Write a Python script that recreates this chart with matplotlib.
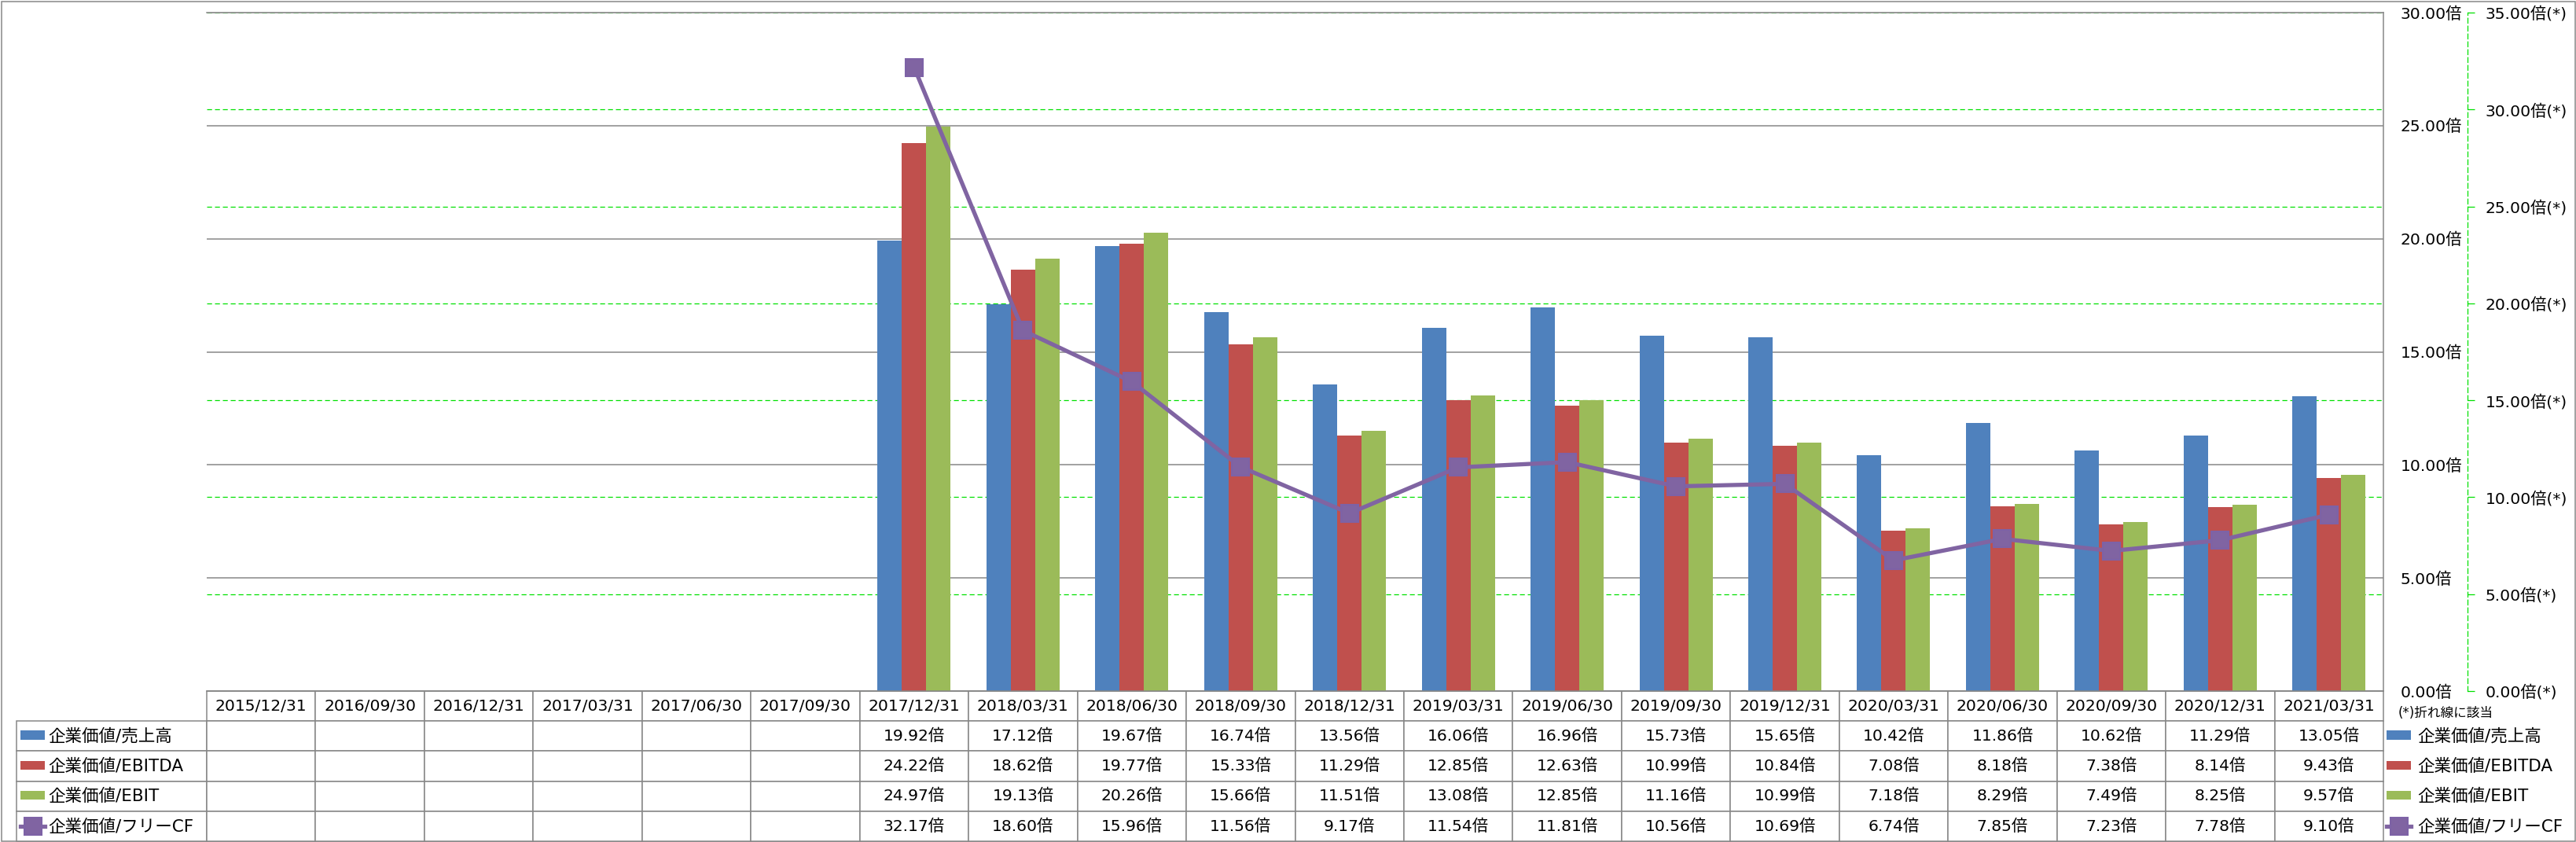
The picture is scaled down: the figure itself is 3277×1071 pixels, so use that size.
import numpy as np
import matplotlib
matplotlib.use('Agg')
import matplotlib.pyplot as plt
from matplotlib.patches import Rectangle

plt.rcParams['font.family'] = ['DejaVu Sans', 'Noto Sans CJK JP']

# Data
dates = ['2015/12/31', '2016/09/30', '2016/12/31', '2017/03/31', '2017/06/30',
         '2017/09/30', '2017/12/31', '2018/03/31', '2018/06/30', '2018/09/30',
         '2018/12/31', '2019/03/31', '2019/06/30', '2019/09/30', '2019/12/31',
         '2020/03/31', '2020/06/30', '2020/09/30', '2020/12/31', '2021/03/31']
nan = np.nan
ev_sales = [nan] * 6 + [19.92, 17.12, 19.67, 16.74, 13.56, 16.06, 16.96, 15.73, 15.65,
                        10.42, 11.86, 10.62, 11.29, 13.05]
ev_ebitda = [nan] * 6 + [24.22, 18.62, 19.77, 15.33, 11.29, 12.85, 12.63, 10.99, 10.84,
                         7.08, 8.18, 7.38, 8.14, 9.43]
ev_ebit = [nan] * 6 + [24.97, 19.13, 20.26, 15.66, 11.51, 13.08, 12.85, 11.16, 10.99,
                       7.18, 8.29, 7.49, 8.25, 9.57]
ev_fcf = [nan] * 6 + [32.17, 18.60, 15.96, 11.56, 9.17, 11.54, 11.81, 10.56, 10.69,
                      6.74, 7.85, 7.23, 7.78, 9.10]
labels = ['企業価値/売上高', '企業価値/EBITDA', '企業価値/EBIT', '企業価値/フリーCF']
colors = ['#4F81BD', '#C0504D', '#9BBB59', '#8064A2']

W, H = 3277, 1071
fs = 14.6
grid_gray = '#878787'

fig = plt.figure(figsize=(W / 100, H / 100), dpi=100)
fig.patch.set_facecolor('white')

# plot area in pixels: left 263, right 3032, top 16, bottom 879
rect = [263 / W, (H - 879) / H, (3032 - 263) / W, (879 - 16) / H]
ax = fig.add_axes(rect)
ax2 = ax.twinx()   # secondary scale: grid, spine, labels
ax3 = ax.twinx()   # secondary scale: line
ax2.set_zorder(0)
ax.set_zorder(1)
ax3.set_zorder(2)
ax.patch.set_visible(False)

x = np.arange(len(dates))
bw = 0.224
series = [ev_sales, ev_ebitda, ev_ebit]
for i, vals in enumerate(series):
    ax.bar(x + (i - 1) * bw, vals, width=bw, color=colors[i], label=labels[i], zorder=2)

line, = ax3.plot(x, ev_fcf, color=colors[3], lw=3.8, marker='s', ms=16,
                 mfc=colors[3], mec='#7D62A6', mew=1.5, label=labels[3], zorder=5)

ax.set_xlim(-0.5, len(dates) - 0.5)
ax.set_ylim(0, 30)
ax2.set_ylim(0, 35)
ax3.set_ylim(0, 35)

# primary axis
ax.set_yticks(np.arange(0, 31, 5))
ax.set_yticklabels([f'{v:.2f}倍' for v in np.arange(0, 31, 5)])
ax.yaxis.set_ticks_position('right')
ax.tick_params(axis='y', length=0, pad=15.8, labelsize=fs, labelright=True, labelleft=False)
ax.tick_params(axis='x', bottom=False, labelbottom=False)
ax.grid(axis='y', color=grid_gray, lw=1.1)
ax.set_axisbelow(True)
ax.spines['left'].set_visible(False)
for s in ['top', 'right', 'bottom']:
    ax.spines[s].set_color(grid_gray)
    ax.spines[s].set_linewidth(1.1)

# secondary axis
ax2.set_yticks(np.arange(0, 36, 5))
ax2.set_yticklabels([f'{v:.2f}倍(*)' for v in np.arange(0, 36, 5)])
ax2.grid(axis='y', color='#00E000', lw=0.9, ls=(0, (5, 3)))
for s in ['top', 'left', 'bottom']:
    ax2.spines[s].set_visible(False)
ax2.spines['right'].set_position(('outward', 77))
ax2.spines['right'].set_color('#00E000')
ax2.spines['right'].set_linestyle((0, (5, 3)))
ax2.spines['right'].set_linewidth(0.9)
ax2.tick_params(axis='y', length=6.5, width=0.9, color='#00E000', pad=10, labelsize=fs)

ax3.set_yticks([])
for s in ax3.spines.values():
    s.set_visible(False)

# data table below the plot
cell_text = [[''] + dates]
for vals in series + [ev_fcf]:
    cell_text.append([''] + ['' if np.isnan(v) else f'{v:.2f}倍' for v in vals])
tbl_left = (21 - 263) / (3032 - 263)
tbl_h = (1070 - 879) / (879 - 16)
tbl = ax.table(cellText=cell_text, cellLoc='center',
               bbox=[tbl_left, -tbl_h, 1 - tbl_left, tbl_h])
tbl.auto_set_font_size(False)
tbl.set_fontsize(fs)
for (r, c), cell in tbl.get_celld().items():
    cell.set_edgecolor(grid_gray)
    cell.set_linewidth(1.1)
    cell.set_width(242 if c == 0 else 138.45)
    if r == 0 and c == 0:
        cell.visible_edges = ''

handles = ax.get_legend_handles_labels()[0] + [line]

leg_kw = dict(frameon=False, fontsize=15.5, handlelength=1.45, handleheight=0.42,
              labelspacing=0.84, borderpad=0, borderaxespad=0)
leg_left = fig.legend(handles, labels, loc='upper left',
                      bbox_to_anchor=(26 / W, 1 - 926 / H), handletextpad=0.2, **leg_kw)
leg_right = fig.legend(handles, labels, loc='upper left',
                       bbox_to_anchor=(3036 / W, 1 - 926 / H), handletextpad=0.35, **leg_kw)

fig.text(3051 / W, 1 - 907 / H, '(*)折れ線に該当', fontsize=12, ha='left', va='center')

# outer frame
fig.add_artist(Rectangle((1.5 / W, 1.5 / H), (W - 3) / W, (H - 3) / H,
                         transform=fig.transFigure, fill=False, ec=grid_gray, lw=1.1))

fig.savefig('out.png', dpi=100, facecolor='white')
